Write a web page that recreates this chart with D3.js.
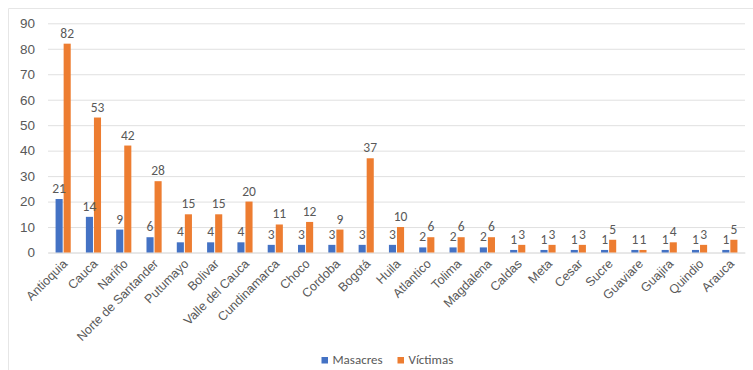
<!DOCTYPE html>
<html>
<head>
<meta charset="utf-8">
<script src="https://cdn.jsdelivr.net/npm/d3@7"></script>
<style>
  html, body { margin: 0; padding: 0; background: #fff; }
  svg { display: block; font-family: Calibri, Carlito, "Liberation Sans", "Open Sans", sans-serif; }
</style>
</head>
<body>
<svg id="chart" width="753" height="370"></svg>
<script>
// Departamentos y cifras de masacres / víctimas
const categories = ["Antioquia", "Cauca", "Nariño", "Norte de Santander", "Putumayo", "Bolivar",
  "Valle del Cauca", "Cundinamarca", "Choco", "Cordoba", "Bogotá", "Huila", "Atlantico", "Tolima",
  "Magdalena", "Caldas", "Meta", "Cesar", "Sucre", "Guaviare", "Guajira", "Quindio", "Arauca"];
const masacres = [21, 14, 9, 6, 4, 4, 4, 3, 3, 3, 3, 3, 2, 2, 2, 1, 1, 1, 1, 1, 1, 1, 1];
const victimas = [82, 53, 42, 28, 15, 15, 20, 11, 12, 9, 37, 10, 6, 6, 6, 3, 3, 3, 5, 1, 4, 3, 5];
const seriesNames = ["Masacres", "Víctimas"];
const yTicks = [0, 10, 20, 30, 40, 50, 60, 70, 80, 90];

const colors = { "Masacres": "#4472C4", "Víctimas": "#ED7D31" };
const textColor = "#595959";

const svg = d3.select("#chart");
const plotLeft = 48, plotRight = 745, plotTop = 23.3, plotBottom = 252.5;

// outer chart border (top and left edges)
svg.append("line").attr("x1", 8.5).attr("x2", 753).attr("y1", 8.5).attr("y2", 8.5)
  .attr("stroke", "#e6e6e6").attr("stroke-width", 1);
svg.append("line").attr("x1", 8.5).attr("x2", 8.5).attr("y1", 8.5).attr("y2", 370)
  .attr("stroke", "#e6e6e6").attr("stroke-width", 1);

const y = d3.scaleLinear().domain([0, 90]).range([plotBottom, plotTop]);
const x0 = d3.scaleBand().domain(categories).range([plotLeft, plotRight]).paddingInner(0.5).paddingOuter(0.25);
const x1 = d3.scaleBand().domain(seriesNames).range([0, x0.bandwidth()]).paddingInner(0.12);

// gridlines + y labels
const yAxis = d3.axisLeft(y).tickValues(yTicks).tickSize(-(plotRight - plotLeft)).tickPadding(13);
const gy = svg.append("g").attr("transform", `translate(${plotLeft},0)`).call(yAxis);
gy.select(".domain").remove();
gy.selectAll(".tick line").attr("stroke", "#e0e0e0").attr("stroke-width", 1);
gy.selectAll(".tick text").attr("fill", textColor).attr("font-size", 13.5);

// category axis
const xAxis = d3.axisBottom(x0).tickSize(0).tickPadding(0);
const gx = svg.append("g").attr("transform", `translate(0,${plotBottom})`).call(xAxis);
gx.select(".domain").attr("stroke", "#e0e0e0");
gx.selectAll(".tick text")
  .attr("fill", textColor).attr("font-size", 12.5)
  .attr("text-anchor", "end")
  .attr("dy", null)
  .attr("transform", "translate(5,12) rotate(-45)");

// bars
const rows = categories.map((c, i) => ({ cat: c, values: [
  { key: "Masacres", value: masacres[i] },
  { key: "Víctimas", value: victimas[i] }] }));

const groups = svg.append("g").selectAll("g").data(rows).join("g")
  .attr("transform", d => `translate(${x0(d.cat)},0)`);

groups.selectAll("rect").data(d => d.values).join("rect")
  .attr("x", d => x1(d.key))
  .attr("width", x1.bandwidth())
  .attr("y", d => y(d.value))
  .attr("height", d => y(0) - y(d.value))
  .attr("fill", d => colors[d.key]);

groups.selectAll("text").data(d => d.values).join("text")
  .attr("x", d => x1(d.key) + x1.bandwidth() / 2)
  .attr("y", d => y(d.value) - 6)
  .attr("text-anchor", "middle")
  .attr("fill", textColor)
  .attr("font-size", 13.5)
  .text(d => d.value);

// legend
const legendItems = [
  { key: "Masacres", x: 321.5 },
  { key: "Víctimas", x: 397.5 }];
const lg = svg.append("g").selectAll("g").data(legendItems).join("g")
  .attr("transform", d => `translate(${d.x},357)`);
lg.append("rect").attr("width", 6.5).attr("height", 6.5).attr("fill", d => colors[d.key]);
lg.append("text").attr("x", 11).attr("y", 7).attr("fill", textColor).attr("font-size", 13)
  .text(d => d.key);
</script>
</body>
</html>
